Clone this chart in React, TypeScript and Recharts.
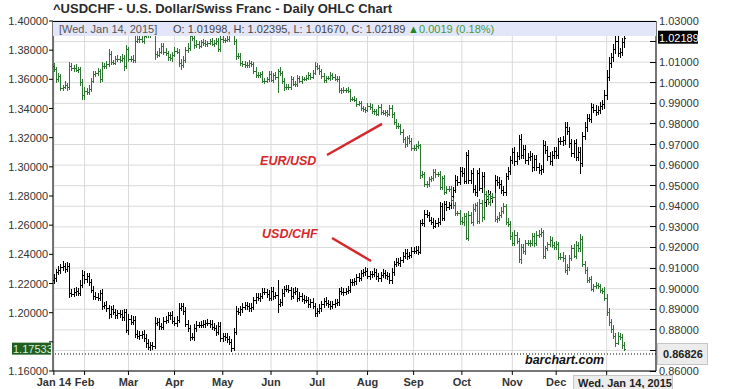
import { ComposedChart, Bar, XAxis, YAxis, CartesianGrid, ReferenceLine, ReferenceDot } from "recharts";

// Daily bars Jan 14 2014 .. Jan 14 2015, prices in 1/10000 units
const EUR_OPEN_FIRST = 13690;
const EUR_CLOSE = [
  13672, 13600, 13620, 13540, 13545, 13560, 13545, 13690, 13675, 13680,
  13665, 13670, 13580, 13490, 13520, 13510, 13535, 13590, 13635, 13640,
  13655, 13600, 13690, 13690, 13705, 13775, 13720, 13715, 13740, 13740,
  13735, 13745, 13690, 13805, 13740, 13740, 13730, 13865, 13875, 13880,
  13865, 13900, 13905, 13910, 13925, 13930, 13775, 13770, 13790, 13830,
  13790, 13780, 13750, 13745, 13770, 13795, 13790, 13715, 13700, 13730,
  13800, 13815, 13895, 13885, 13835, 13845, 13830, 13855, 13850, 13845,
  13850, 13860, 13845, 13850, 13860, 13810, 13875, 13870, 13870, 13875,
  13915, 13935, 13860, 13760, 13760, 13715, 13705, 13700, 13695, 13710,
  13705, 13660, 13630, 13630, 13635, 13590, 13590, 13600, 13635, 13595,
  13630, 13615, 13660, 13640, 13590, 13545, 13545, 13550, 13600, 13570,
  13565, 13610, 13590, 13605, 13605, 13610, 13630, 13615, 13645, 13690,
  13680, 13655, 13620, 13595, 13610, 13610, 13630, 13615, 13605, 13605,
  13525, 13530, 13525, 13525, 13520, 13465, 13465, 13460, 13430, 13435,
  13400, 13395, 13390, 13420, 13410, 13380, 13380, 13365, 13410, 13375,
  13370, 13375, 13365, 13405, 13360, 13310, 13280, 13280, 13240, 13190,
  13155, 13195, 13180, 13130, 13130, 13140, 13150, 12945, 12950, 12885,
  12880, 12915, 12925, 12965, 12950, 12950, 12865, 12920, 12830, 12850,
  12850, 12770, 12740, 12685, 12685, 12630, 12620, 12665, 12515, 12670,
  12625, 12710, 12735, 12630, 12750, 12655, 12815, 12800, 12760, 12800,
  12795, 12645, 12650, 12670, 12700, 12730, 12625, 12610, 12525, 12480,
  12535, 12490, 12370, 12450, 12420, 12480, 12475, 12475, 12525, 12475,
  12535, 12540, 12550, 12390, 12440, 12470, 12500, 12465, 12450, 12470,
  12385, 12385, 12375, 12290, 12310, 12375, 12440, 12390, 12465, 12440,
  12505, 12335, 12290, 12225, 12230, 12165, 12180, 12190, 12180, 12155,
  12150, 12100, 12005, 11935, 11890, 11840, 11795, 11840, 11835, 11775,
  11753,
];
// pips above / below the open-close body
const EUR_UP = [
  22, 16, 24, 19, 18, 26, 14, 29, 20, 16, 24, 18, 16, 22, 26, 19, 24, 16, 20, 18,
  22, 16, 29, 19, 24, 32, 18, 16, 22, 24, 19, 26, 20, 32, 16, 18, 24, 39, 22, 19,
  26, 22, 34, 24, 29, 20, 16, 19, 24, 22, 18, 24, 16, 22, 19, 26, 20, 16, 24, 29,
  22, 34, 19, 16, 18, 24, 20, 16, 22, 19, 16, 20, 24, 18, 22, 26, 19, 29, 16, 20,
  24, 34, 19, 16, 18, 22, 14, 19, 16, 20, 18, 16, 22, 19, 14, 20, 16, 18, 22, 19,
  16, 20, 10, 24, 18, 16, 20, 19, 26, 16, 18, 22, 16, 19, 14, 18, 20, 16, 19, 29,
  20, 16, 18, 22, 14, 16, 19, 16, 20, 18, 16, 14, 18, 16, 20, 14, 16, 18, 14, 16,
  18, 14, 16, 20, 16, 18, 14, 19, 16, 22, 16, 18, 14, 16, 22, 19, 16, 18, 14, 20,
  18, 16, 22, 16, 20, 18, 24, 10, 22, 18, 20, 16, 14, 22, 18, 15, 20, 16, 24, 18,
  16, 20, 14, 18, 15, 20, 25, 18, 20, 30, 22, 35, 18, 25, 30, 20, 40, 18, 22, 16,
  20, 25, 15, 18, 24, 20, 16, 22, 18, 25, 30, 20, 25, 18, 22, 20, 16, 24, 20, 18,
  22, 25, 30, 20, 18, 16, 24, 20, 18, 22, 16, 25, 30, 20, 22, 18, 25, 30, 24, 20,
  35, 22, 18, 20, 16, 24, 14, 18, 12, 20, 16, 24, 30, 25, 20, 28, 22, 30, 24, 18,
  22,
];
const EUR_DN = [
  19, 24, 16, 22, 18, 14, 26, 16, 20, 24, 18, 22, 26, 29, 34, 16, 20, 24, 18, 16,
  20, 24, 18, 16, 22, 19, 24, 20, 16, 18, 24, 18, 34, 16, 22, 19, 16, 20, 18, 24,
  18, 22, 16, 20, 24, 18, 39, 22, 16, 19, 24, 18, 22, 16, 26, 20, 16, 29, 34, 19,
  18, 16, 20, 22, 24, 18, 20, 16, 18, 22, 20, 16, 18, 22, 16, 20, 24, 18, 22, 16,
  18, 16, 22, 24, 20, 26, 22, 19, 16, 18, 20, 22, 18, 24, 19, 16, 22, 18, 20, 16,
  18, 20, 112, 16, 22, 26, 18, 16, 20, 18, 16, 20, 18, 22, 16, 18, 14, 20, 16, 18,
  19, 22, 16, 18, 20, 16, 18, 22, 16, 20, 18, 24, 16, 18, 14, 20, 16, 18, 20, 16,
  18, 16, 20, 14, 18, 16, 22, 16, 18, 20, 16, 18, 20, 16, 24, 22, 20, 18, 22, 26,
  24, 22, 20, 18, 22, 20, 18, 25, 22, 24, 22, 18, 16, 20, 24, 18, 22, 25, 20, 18,
  24, 20, 28, 22, 25, 30, 22, 28, 15, 25, 20, 28, 22, 20, 25, 30, 22, 24, 20, 28,
  22, 20, 30, 24, 18, 20, 25, 22, 28, 20, 25, 22, 30, 35, 20, 22, 18, 24, 20, 22,
  18, 22, 20, 25, 22, 18, 20, 24, 22, 20, 25, 22, 28, 20, 30, 24, 22, 18, 20, 25,
  22, 20, 28, 24, 20, 18, 22, 16, 20, 18, 22, 20, 25, 24, 30, 22, 28, 20, 25, 22,
  18,
];

const CHF_OPEN_FIRST = 9040;
const CHF_CLOSE = [
  9050, 9080, 9090, 9105, 9110, 9095, 9110, 8980, 8975, 8985,
  8990, 8980, 9020, 9065, 9045, 9060, 9030, 8995, 8965, 8960,
  8955, 8980, 8915, 8920, 8905, 8875, 8900, 8885, 8870, 8880,
  8875, 8860, 8885, 8800, 8855, 8840, 8850, 8780, 8770, 8775,
  8780, 8760, 8735, 8715, 8725, 8720, 8835, 8840, 8820, 8815,
  8845, 8850, 8870, 8870, 8845, 8835, 8850, 8905, 8915, 8890,
  8830, 8810, 8765, 8765, 8810, 8825, 8825, 8825, 8830, 8835,
  8835, 8830, 8815, 8810, 8790, 8820, 8760, 8770, 8765, 8755,
  8740, 8710, 8790, 8890, 8885, 8900, 8910, 8920, 8915, 8905,
  8910, 8945, 8960, 8955, 8965, 8985, 8985, 8975, 8955, 8990,
  8965, 8970, 8925, 8935, 8980, 9000, 9000, 8995, 8965, 8985,
  8990, 8955, 8965, 8950, 8945, 8945, 8925, 8935, 8915, 8880,
  8890, 8905, 8925, 8940, 8930, 8925, 8915, 8925, 8930, 8935,
  8990, 8985, 8985, 8990, 8995, 9030, 9030, 9035, 9055, 9050,
  9075, 9080, 9085, 9060, 9070, 9070, 9080, 9060, 9050, 9065,
  9075, 9065, 9060, 9040, 9080, 9120, 9130, 9125, 9140, 9160,
  9175, 9160, 9165, 9185, 9185, 9190, 9180, 9320, 9320, 9365,
  9360, 9335, 9325, 9305, 9320, 9325, 9400, 9345, 9410, 9395,
  9405, 9450, 9480, 9530, 9520, 9570, 9560, 9525, 9650, 9530,
  9560, 9485, 9470, 9560, 9490, 9545, 9420, 9435, 9460, 9440,
  9445, 9530, 9520, 9510, 9480, 9470, 9545, 9570, 9625, 9665,
  9620, 9645, 9725, 9650, 9680, 9625, 9640, 9645, 9590, 9630,
  9590, 9575, 9580, 9700, 9675, 9645, 9620, 9650, 9670, 9650,
  9715, 9715, 9720, 9785, 9765, 9705, 9660, 9705, 9640, 9665,
  9610, 9740, 9785, 9830, 9825, 9880, 9870, 9860, 9870, 9885,
  9895, 9940, 10030, 10095, 10125, 10165, 10205, 10145, 10150, 10200,
  10219,
];
const CHF_UP = [
  19, 17, 21, 15, 23, 17, 20, 15, 17, 19, 17, 15, 21, 25, 19, 17, 15, 17, 19, 21,
  17, 15, 19, 17, 21, 15, 17, 19, 15, 17, 17, 19, 15, 17, 21, 17, 19, 15, 17, 19,
  15, 17, 19, 21, 17, 15, 25, 17, 19, 15, 17, 19, 15, 17, 21, 17, 19, 25, 17, 15,
  19, 17, 15, 21, 17, 19, 15, 17, 19, 15, 17, 15, 19, 17, 15, 17, 19, 15, 17, 19,
  15, 17, 19, 25, 17, 15, 19, 17, 15, 17, 19, 15, 17, 19, 15, 17, 19, 15, 17, 19,
  17, 15, 70, 17, 19, 15, 17, 19, 15, 17, 19, 15, 17, 15, 19, 17, 15, 17, 19, 15,
  17, 19, 15, 17, 19, 15, 17, 15, 19, 17, 15, 19, 17, 15, 17, 19, 15, 17, 15, 19,
  17, 15, 19, 17, 15, 17, 19, 15, 17, 15, 19, 17, 15, 17, 19, 15, 17, 19, 15, 17,
  19, 17, 15, 17, 15, 17, 19, 15, 17, 19, 16, 12, 14, 18, 12, 16, 20, 14, 18, 16,
  14, 18, 16, 20, 18, 22, 20, 24, 13, 22, 18, 24, 20, 16, 28, 20, 22, 18, 20, 16,
  18, 20, 16, 22, 18, 20, 16, 22, 18, 20, 22, 18, 20, 25, 16, 20, 18, 22, 16, 20,
  18, 22, 20, 24, 18, 16, 20, 18, 16, 20, 18, 22, 20, 24, 25, 20, 22, 18, 20, 24,
  22, 20, 25, 20, 18, 22, 16, 20, 18, 20, 22, 25, 30, 28, 20, 25, 22, 28, 20, 18,
  20,
];
const CHF_DN = [
  17, 19, 15, 21, 17, 19, 15, 23, 17, 15, 19, 17, 15, 17, 21, 19, 17, 15, 19, 17,
  15, 17, 19, 15, 17, 21, 17, 15, 19, 17, 17, 15, 19, 17, 23, 15, 17, 19, 15, 17,
  19, 17, 21, 15, 19, 17, 15, 17, 19, 15, 17, 15, 19, 21, 17, 15, 19, 17, 15, 19,
  17, 21, 19, 15, 17, 19, 15, 17, 15, 19, 17, 19, 15, 17, 19, 15, 17, 21, 19, 17,
  15, 19, 13, 17, 15, 19, 17, 15, 17, 19, 17, 15, 19, 17, 21, 15, 17, 19, 15, 17,
  19, 17, 45, 15, 17, 19, 15, 17, 19, 15, 17, 19, 15, 17, 19, 15, 17, 19, 15, 17,
  19, 15, 17, 19, 15, 17, 19, 15, 17, 15, 17, 15, 19, 17, 15, 17, 19, 15, 17, 19,
  15, 17, 19, 15, 17, 19, 15, 17, 19, 17, 15, 19, 17, 15, 19, 17, 15, 17, 19, 15,
  17, 19, 15, 17, 19, 17, 15, 10, 17, 19, 16, 12, 18, 14, 12, 20, 16, 14, 18, 16,
  14, 18, 20, 16, 22, 18, 20, 16, 18, 22, 20, 18, 22, 24, 18, 26, 20, 22, 18, 20,
  22, 18, 20, 24, 18, 20, 22, 16, 18, 20, 24, 20, 18, 22, 20, 18, 22, 20, 24, 18,
  20, 18, 22, 16, 20, 24, 18, 22, 20, 18, 22, 18, 20, 24, 18, 22, 20, 24, 18, 22,
  55, 20, 18, 22, 16, 20, 18, 22, 16, 20, 18, 22, 25, 20, 24, 22, 26, 20, 24, 22,
  33,
];

const MONTH_IDX = [0, 14, 34, 55, 77, 99, 120, 143, 164, 186, 209, 229, 252];
const MONTH_LABELS = ["Jan 14", "Feb", "Mar", "Apr", "May", "Jun", "Jul", "Aug", "Sep", "Oct", "Nov", "Dec", ""];

const EUR_TICKS = [1.16, 1.18, 1.2, 1.22, 1.24, 1.26, 1.28, 1.3, 1.32, 1.34, 1.36, 1.38, 1.4];
const EUR_HIDDEN = [1.18];
const CHF_TICKS = [0.86, 0.87, 0.88, 0.89, 0.9, 0.91, 0.92, 0.93, 0.94, 0.95, 0.96, 0.97, 0.98, 0.99, 1.0, 1.01, 1.02, 1.03];
const CHF_HIDDEN = [0.87, 1.02];

const EUR_LAST = 1.17533;
const CHF_LAST = 1.02189;
const CHF_MARK = 0.86826;

// annotation arrows (x = bar index, y = EUR/USD axis)
const EUR_ARROW = [{ x: 124.5, y: 1.3081 }, { x: 149.6, y: 1.3294 }];
const CHF_ARROW = [{ x: 126.8, y: 1.2512 }, { x: 144.6, y: 1.2354 }];
const EUR_NOTE = { x: 94, y: 1.3013, text: "EUR/USD" };
const CHF_NOTE = { x: 94.9, y: 1.2512, text: "USD/CHF" };

const FONT = "'Liberation Sans', Arial, Helvetica, sans-serif";
const GREEN = "#2e7432";
const RED = "#d6282c";

const rows = EUR_CLOSE.map((ec, i) => {
  const eo = i === 0 ? EUR_OPEN_FIRST : EUR_CLOSE[i - 1];
  const cc = CHF_CLOSE[i];
  const co = i === 0 ? CHF_OPEN_FIRST : CHF_CLOSE[i - 1];
  return {
    i,
    eo: eo / 1e4,
    ec: ec / 1e4,
    eur: [(Math.min(eo, ec) - EUR_DN[i]) / 1e4, (Math.max(eo, ec) + EUR_UP[i]) / 1e4],
    co: co / 1e4,
    cc: cc / 1e4,
    chf: [(Math.min(co, cc) - CHF_DN[i]) / 1e4, (Math.max(co, cc) + CHF_UP[i]) / 1e4],
  };
});

const ohlcShape = (rangeKey: string, oKey: string, cKey: string, color: string) => (props: any) => {
  const { x, y, width, height, payload } = props;
  if (!payload || !payload[rangeKey]) return null;
  const [lo, hi] = payload[rangeKey];
  const top = Math.min(y, y + height);
  const bot = Math.max(y, y + height);
  const toY = (v: number) => Math.round(hi === lo ? top : bot - ((v - lo) / (hi - lo)) * (bot - top)) + 0.5;
  const cx = Math.round(x + width / 2) + 0.5;
  const oy = toY(payload[oKey]);
  const cy = toY(payload[cKey]);
  return (
    <g stroke={color} strokeWidth={1} shapeRendering="crispEdges">
      <line x1={cx} x2={cx} y1={top} y2={bot} />
      <line x1={cx - 1.5} x2={cx} y1={oy} y2={oy} />
      <line x1={cx} x2={cx + 1.5} y1={cy} y2={cy} />
    </g>
  );
};

const LeftTick = (props: any) => {
  const { x, y, payload } = props;
  if (EUR_HIDDEN.includes(payload.value)) return null;
  return (
    <text x={x} y={y + 4} textAnchor="end" fontSize={11} fill="#333">
      {payload.value.toFixed(5)}
    </text>
  );
};

const RightTick = (props: any) => {
  const { x, y, payload } = props;
  return (
    <g>
      <line x1={x - 9} x2={x - 3} y1={y} y2={y} stroke="#000" shapeRendering="crispEdges" />
      {!CHF_HIDDEN.includes(payload.value) && (
        <text x={x} y={y + 4} fontSize={11} fill="#333">
          {payload.value.toFixed(5)}
        </text>
      )}
    </g>
  );
};

const MonthTick = (props: any) => {
  const { x, y, payload } = props;
  const label = MONTH_LABELS[MONTH_IDX.indexOf(payload.value)];
  return (
    <text x={x} y={y + 9} textAnchor="middle" fontSize={11} fontWeight="bold" fill="#333">
      {label}
    </text>
  );
};

const leftValueBox = (props: any) => {
  const vb = props.viewBox;
  const yy = vb.y + (vb.height || 0) / 2;
  return (
    <g>
      <rect x={vb.x - 41} y={yy - 6} width={39} height={12} fill="#1f5f1f" />
      <text x={vb.x - 40} y={yy + 4} fontSize={11} fill="#d9f0d9">{EUR_LAST.toFixed(5)}</text>
    </g>
  );
};

const rightLastBox = (props: any) => {
  const vb = props.viewBox;
  const yy = vb.y + (vb.height || 0) / 2;
  const rx = vb.x + vb.width + 2;
  return (
    <g>
      <rect x={rx} y={yy - 7} width={40} height={13} fill="#000" />
      <text x={rx + 1} y={yy + 4} fontSize={11} fill="#fff">{CHF_LAST.toFixed(5)}</text>
    </g>
  );
};

const rightMarkBox = (props: any) => {
  const vb = props.viewBox;
  const yy = vb.y + (vb.height || 0) / 2;
  const rx = vb.x + vb.width + 1;
  return (
    <g>
      <rect x={rx + 0.5} y={yy - 10.5} width={50} height={21} fill="#ececec" stroke="#c6c6c6" />
      <text x={rx + 6} y={yy + 4} fontSize={11} fontWeight="bold" fill="#222">{CHF_MARK.toFixed(5)}</text>
    </g>
  );
};

const noteLabel = (text: string) => (props: any) => {
  const vb = props.viewBox;
  return (
    <text x={vb.x} y={vb.y} fontSize={12.5} fontWeight="bold" fontStyle="italic" fill={RED}>
      {text}
    </text>
  );
};

export default function App() {
  return (
    <div style={{ position: "absolute", left: 0, top: 0, width: 729, height: 389, background: "#fff", fontFamily: FONT, overflow: "hidden" }}>
      <div style={{ position: "absolute", left: 53, top: 1, fontSize: 13, fontWeight: "bold", color: "#2a2a2a", whiteSpace: "nowrap" }}>
        ^USDCHF - U.S. Dollar/Swiss Franc - Daily OHLC Chart
      </div>

      <ComposedChart width={729} height={389} data={rows} margin={{ top: 21, right: 0, bottom: 0, left: 0 }} style={{ position: "absolute", left: 0, top: 0 }}>
        <CartesianGrid xAxisId="a" yAxisId="chf" stroke="#d9d9d9" />
        <XAxis
          xAxisId="a"
          type="number"
          dataKey="i"
          domain={[-0.4, 274.5]}
          allowDataOverflow
          ticks={MONTH_IDX}
          interval={0}
          height={18}
          tickSize={4}
          axisLine={{ stroke: "#000" }}
          tickLine={{ stroke: "#000" }}
          tick={<MonthTick />}
        />
        <XAxis xAxisId="b" type="number" dataKey="i" domain={[-0.4, 274.5]} allowDataOverflow hide />
        <YAxis
          yAxisId="eur"
          orientation="left"
          width={53}
          domain={[1.16, 1.4]}
          allowDataOverflow
          ticks={EUR_TICKS}
          interval={0}
          tickSize={4}
          tickMargin={1}
          axisLine={{ stroke: "#000" }}
          tickLine={{ stroke: "#000" }}
          tick={<LeftTick />}
        />
        <YAxis
          yAxisId="chf"
          orientation="right"
          width={73}
          domain={[0.86, 1.03]}
          allowDataOverflow
          ticks={CHF_TICKS}
          interval={0}
          tickSize={0}
          tickMargin={3}
          tickLine={false}
          axisLine={{ stroke: "#000" }}
          tick={<RightTick />}
        />

        <Bar xAxisId="a" yAxisId="chf" dataKey="chf" barSize={2} isAnimationActive={false} shape={ohlcShape("chf", "co", "cc", "#000")} />
        <Bar xAxisId="b" yAxisId="eur" dataKey="eur" barSize={2} isAnimationActive={false} shape={ohlcShape("eur", "eo", "ec", GREEN)} />

        <ReferenceLine xAxisId="a" yAxisId="chf" y={CHF_MARK} stroke="#000" strokeDasharray="1 2" label={rightMarkBox} />
        <ReferenceLine xAxisId="a" yAxisId="chf" y={CHF_LAST} stroke="none" label={rightLastBox} />
        <ReferenceLine xAxisId="a" yAxisId="eur" y={EUR_LAST} stroke="none" label={leftValueBox} />

        <ReferenceLine xAxisId="a" yAxisId="eur" segment={EUR_ARROW} stroke={RED} strokeWidth={2.5} />
        <ReferenceLine xAxisId="a" yAxisId="eur" segment={CHF_ARROW} stroke={RED} strokeWidth={2.5} />
        <ReferenceDot xAxisId="a" yAxisId="eur" x={EUR_NOTE.x} y={EUR_NOTE.y} r={0} fill="none" stroke="none" label={noteLabel(EUR_NOTE.text)} />
        <ReferenceDot xAxisId="a" yAxisId="eur" x={CHF_NOTE.x} y={CHF_NOTE.y} r={0} fill="none" stroke="none" label={noteLabel(CHF_NOTE.text)} />
      </ComposedChart>

      <div style={{ position: "absolute", left: 53, top: 21, width: 603, height: 14, background: "#e3e5f8", borderTop: "1px solid #000", fontSize: 11, lineHeight: "14px", whiteSpace: "nowrap" }}>
        <span style={{ position: "absolute", left: 6, top: 0, color: "#555" }}>[Wed. Jan 14, 2015]</span>
        <span style={{ position: "absolute", left: 120, top: 0, color: "#444" }}>O: 1.01998, H: 1.02395, L: 1.01670, C: 1.02189</span>
        <span style={{ position: "absolute", left: 355, top: 0, color: "#1d8a1d" }}>▲</span>
        <span style={{ position: "absolute", left: 366, top: 0, color: "#3f9a3f" }}>0.0019 (0.18%)</span>
      </div>

      <div style={{ position: "absolute", left: 525, top: 353, fontSize: 12.5, fontWeight: "bold", fontStyle: "italic", color: "#111" }}>
        barchart.com
      </div>

      <div style={{ position: "absolute", left: 573, top: 375, width: 100, height: 15, background: "#ececec", border: "1px solid #c6c6c6", fontSize: 11, fontWeight: "bold", lineHeight: "15px", color: "#222", paddingLeft: 4, boxSizing: "border-box", whiteSpace: "nowrap" }}>
        Wed. Jan 14, 2015
      </div>
    </div>
  );
}
